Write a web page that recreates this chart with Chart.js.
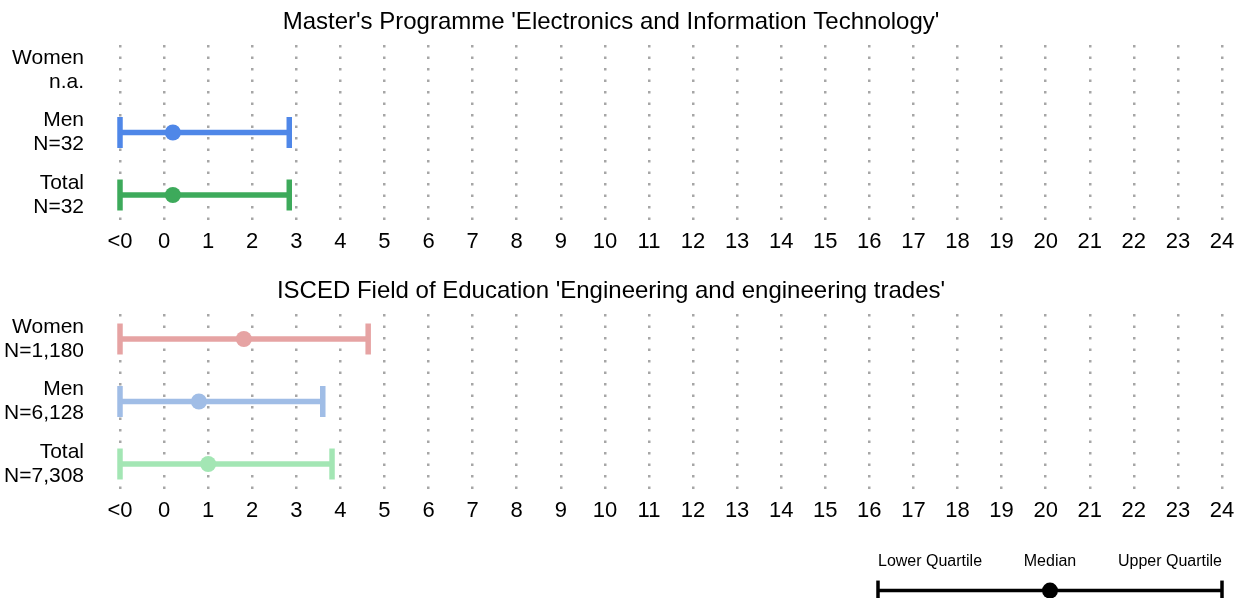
<!DOCTYPE html>
<html>
<head>
<meta charset="utf-8">
<script src="https://cdn.jsdelivr.net/npm/chart.js@4"></script>
<style>
  body { margin: 0; width: 1246px; height: 598px; overflow: hidden; background: #fff; }
  canvas { position: absolute; }
</style>
</head>
<body>
<canvas id="topChart" width="1246" height="264" style="left:0;top:0"></canvas>
<canvas id="bottomChart" width="1246" height="264" style="left:0;top:269px"></canvas>
<canvas id="legendChart" width="386" height="77" style="left:860px;top:540px"></canvas>
<script>
// x axis: "<0" is the bin below zero, then 0..24
const tickValues = [-1, 0, 1, 2, 3, 4, 5, 6, 7, 8, 9, 10, 11, 12, 13, 14, 15, 16, 17, 18, 19, 20, 21, 22, 23, 24];
const tickLabels = ['<0', '0', '1', '2', '3', '4', '5', '6', '7', '8', '9', '10', '11', '12',
  '13', '14', '15', '16', '17', '18', '19', '20', '21', '22', '23', '24'];

const groups = ['Women', 'Men', 'Total'];

const topTitle = "Master's Programme 'Electronics and Information Technology'";
const topCounts = ['n.a.', 'N=32', 'N=32'];
const topLower = [null, -1, -1];
const topMedian = [null, 0.2, 0.2];
const topUpper = [null, 2.84, 2.84];
const topColors = ['#e6a2a2', '#4f87e8', '#3daa5b'];

const bottomTitle = "ISCED Field of Education 'Engineering and engineering trades'";
const bottomCounts = ['N=1,180', 'N=6,128', 'N=7,308'];
const bottomLower = [-1, -1, -1];
const bottomMedian = [1.81, 0.79, 1.0];
const bottomUpper = [4.63, 3.6, 3.81];
const bottomColors = ['#e6a3a3', '#a0bde6', '#a3e6b4'];

const legendLabels = ['Lower Quartile', 'Median', 'Upper Quartile'];
const legendValues = [0, 0.5, 1];

Chart.defaults.font.family = "'Liberation Sans', Arial, sans-serif";
Chart.defaults.color = '#000';

function buildDatasets(lower, median, upper, colors) {
  const sets = [];
  groups.forEach((g, i) => {
    if (median[i] === null) return;
    sets.push({
      label: g + ' median',
      data: [{ x: median[i], y: i }],
      pointStyle: 'circle',
      pointRadius: 8,
      pointBackgroundColor: colors[i],
      pointBorderWidth: 0,
      showLine: false,
      clip: false,
      order: 0
    });
    sets.push({
      label: g + ' quartiles',
      data: [{ x: lower[i], y: i }, { x: upper[i], y: i }],
      showLine: true,
      borderColor: colors[i],
      borderWidth: 5.5,
      pointStyle: 'line',
      pointRotation: 90,
      pointRadius: 15.5,
      pointBorderWidth: 5.5,
      pointBorderColor: colors[i],
      clip: false,
      order: 1
    });
  });
  return sets;
}

function makeChart(id, title, counts, lower, median, upper, colors) {
  return new Chart(document.getElementById(id), {
    type: 'scatter',
    data: { datasets: buildDatasets(lower, median, upper, colors) },
    options: {
      responsive: false,
      animation: false,
      events: [],
      layout: { padding: { right: 24, top: 0, bottom: 0 } },
      plugins: {
        legend: { display: false },
        tooltip: { enabled: false },
        title: {
          display: true,
          text: title,
          font: { size: 24, weight: 'normal' },
          color: '#000',
          padding: { top: 7.6, bottom: 8.6 }
        }
      },
      scales: {
        x: {
          type: 'linear',
          min: -1,
          max: 24,
          afterBuildTicks: s => { s.ticks = tickValues.map(v => ({ value: v })); },
          ticks: {
            autoSkip: false,
            maxRotation: 0,
            padding: 8.8,
            font: { size: 22 },
            color: '#000',
            callback: v => tickLabels[tickValues.indexOf(v)]
          },
          grid: { color: '#a6a6a6', lineWidth: 2.5, drawTicks: false },
          border: { display: false, dash: [2.5, 9] }
        },
        y: {
          type: 'linear',
          reverse: true,
          min: -0.4,
          max: 2.4,
          afterBuildTicks: s => { s.ticks = groups.map((g, i) => ({ value: i })); },
          afterFit: s => { s.width = 120; s.paddingTop = 0; s.paddingBottom = 0; },
          ticks: {
            padding: 36,
            font: { size: 21, lineHeight: 1.15 },
            color: '#000',
            callback: v => [groups[v], counts[v]]
          },
          grid: { display: false, drawTicks: false },
          border: { display: false }
        }
      }
    }
  });
}

makeChart('topChart', topTitle, topCounts, topLower, topMedian, topUpper, topColors);
makeChart('bottomChart', bottomTitle, bottomCounts, bottomLower, bottomMedian, bottomUpper, bottomColors);

// key explaining the markers
new Chart(document.getElementById('legendChart'), {
  type: 'scatter',
  data: {
    datasets: [{
      data: [{ x: legendValues[1], y: 0 }],
      pointStyle: 'circle',
      pointRadius: 8,
      pointBackgroundColor: '#000',
      pointBorderWidth: 0,
      clip: false,
      order: 0
    }, {
      data: [{ x: legendValues[0], y: 0 }, { x: legendValues[2], y: 0 }],
      showLine: true,
      borderColor: '#000',
      borderWidth: 3.5,
      pointStyle: 'line',
      pointRotation: 90,
      pointRadius: 10,
      pointBorderWidth: 3.5,
      pointBorderColor: '#000',
      clip: false,
      order: 1
    }]
  },
  options: {
    responsive: false,
    animation: false,
    events: [],
    layout: { padding: { left: 18, right: 24, top: 6.4, bottom: 0 } },
    plugins: { legend: { display: false }, tooltip: { enabled: false } },
    scales: {
      x: {
        type: 'linear',
        position: 'top',
        min: 0,
        max: 1,
        afterBuildTicks: s => { s.ticks = legendValues.map(v => ({ value: v })); },
        ticks: {
          align: 'inner',
          padding: 6,
          maxRotation: 0,
          font: { size: 16 },
          color: '#000',
          callback: v => legendLabels[legendValues.indexOf(v)]
        },
        grid: { display: false, drawTicks: false },
        border: { display: false }
      },
      y: { display: false, min: -1, max: 1 }
    }
  }
});
</script>
</body>
</html>
